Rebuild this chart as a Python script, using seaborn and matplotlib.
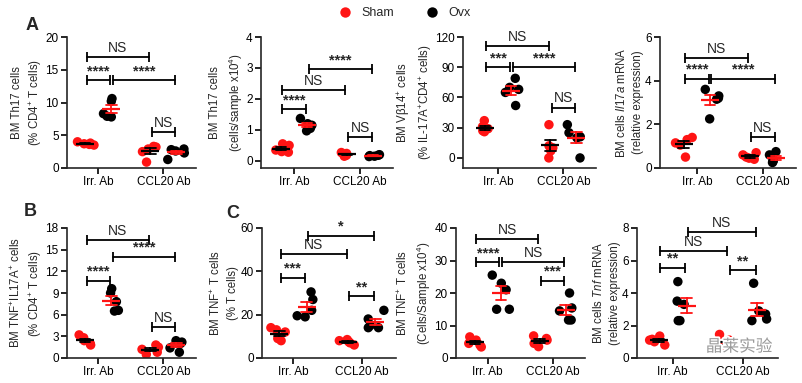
import numpy as np
import pandas as pd
import matplotlib
matplotlib.use("Agg")
import matplotlib.pyplot as plt
import matplotlib.patheffects as pe
import seaborn as sns

treatments = ["Irr. Ab", "CCL20 Ab"]
groups = ["Sham", "Ovx"]

# each list: [Irr. Ab values], [CCL20 Ab values]
th17_pct_sham = [[4.0, 3.8, 3.7, 3.6, 3.5], [3.3, 3.2, 2.9, 2.5, 0.9]]
th17_pct_ovx = [[10.6, 10.2, 8.3, 7.9, 7.8], [2.9, 2.8, 2.6, 2.3, 1.3]]

th17_num_sham = [[0.55, 0.5, 0.35, 0.3, 0.28], [0.27, 0.24, 0.2, 0.18, 0.15]]
th17_num_ovx = [[1.37, 1.2, 1.15, 1.05, 0.97], [0.2, 0.18, 0.17, 0.15, 0.14]]

vb14_sham = [[37, 31, 29, 27, 26], [33, 12, 10, 7, 0]]
vb14_ovx = [[79, 70, 68, 65, 52], [33, 25, 21, 20, 0]]

il17a_sham = [[1.4, 1.3, 1.15, 1.05, 0.5], [0.7, 0.6, 0.5, 0.45, 0.4]]
il17a_ovx = [[3.6, 3.3, 3.2, 3.15, 2.25], [0.75, 0.6, 0.35, 0.3, 0.25]]

tnf_il17_sham = [[3.2, 2.8, 2.4, 2.0, 1.8], [1.8, 1.5, 1.2, 0.8, 0.5]]
tnf_il17_ovx = [[9.6, 9.0, 7.8, 6.6, 6.5], [2.4, 2.2, 2.0, 1.4, 0.8]]

tnf_pct_sham = [[14, 13, 12, 9, 8], [8.5, 8, 7.5, 7, 6]]
tnf_pct_ovx = [[30.5, 27, 22, 19.5, 19], [22, 18, 15, 14, 14]]

tnf_num_sham = [[6.5, 5.5, 4.5, 4, 3.4], [6.8, 6, 5.5, 4.5, 3.5]]
tnf_num_ovx = [[25.5, 23, 21, 15, 15], [20, 15.4, 14.5, 11.7, 11.7]]

tnf_mrna_sham = [[1.35, 1.15, 1.1, 1.0, 0.8], [1.45, 1.1, 0.8, 0.75, 0.7]]
tnf_mrna_ovx = [[4.7, 3.5, 3.3, 2.3, 2.3], [4.6, 2.9, 2.7, 2.4, 2.3]]

# bracket ends: group centres after dodge
SI, OI, SC, OC = -0.2, 0.2, 0.8, 1.2

W, H = 803, 383

panels = [
    # sham, ovx, ylabel, ylim, yticks, (left px, right px, top px, bottom px), xleft, brackets
    (th17_pct_sham, th17_pct_ovx,
     "BM Th17 cells\n(% CD4$^{+}$ T cells)", (0, 20), [0, 5, 10, 15, 20],
     (67, 196, 37, 168), -0.48,
     [(SI, SC, 16.9, "NS"), (SI, OI, 13.4, "****"), (OI, OC, 13.4, "****"), (SC, OC, 5.5, "NS")]),
    (th17_num_sham, th17_num_ovx,
     "BM Th17 cells\n(cells/sample x10$^{4}$)", (-0.23, 4), [0, 1, 2, 3, 4],
     (261, 393, 37, 168), -0.5,
     [(OI, OC, 2.96, "****"), (SI, SC, 2.3, "NS"), (SI, OI, 1.66, "****"), (SC, OC, 0.78, "NS")]),
    (vb14_sham, vb14_ovx,
     "BM V\u03b214$^{+}$ cells\n(% IL-17A$^{+}$CD4$^{+}$ cells)", (-10, 120), [0, 30, 60, 90, 120],
     (463, 596, 37, 168), -0.54,
     [(SI, SC, 111, "NS"), (SI, OI, 90, "***"), (OI, OC, 90, "****"), (SC, OC, 50, "NS")]),
    (il17a_sham, il17a_ovx,
     "BM cells $\\mathit{Il17a}$ mRNA\n(relative expression)", (0, 6), [0, 2, 4, 6],
     (660, 796, 37, 168), -0.56,
     [(SI, SC, 5.03, "NS"), (SI, OI, 4.08, "****"), (OI, OC, 4.08, "****"), (SC, OC, 1.43, "NS")]),
    (tnf_il17_sham, tnf_il17_ovx,
     "BM TNF$^{+}$IL17A$^{+}$ cells\n(% CD4$^{+}$ T cells)", (0, 18), [0, 3, 6, 9, 12, 15, 18],
     (67, 196, 228, 358), -0.48,
     [(SI, SC, 16.3, "NS"), (OI, OC, 14.0, "****"), (SI, OI, 10.7, "****"), (SC, OC, 4.3, "NS")]),
    (tnf_pct_sham, tnf_pct_ovx,
     "BM TNF$^{+}$ T cells\n(% T cells)", (0, 60), [0, 20, 40, 60],
     (262, 396, 228, 358), -0.45,
     [(OI, OC, 56.4, "*"), (SI, SC, 48.1, "NS"), (SI, OI, 37, "***"), (SC, OC, 28.4, "**")]),
    (tnf_num_sham, tnf_num_ovx,
     "BM TNF$^{+}$ T cells\n(Cells/Sample x10$^{4}$)", (0, 40), [0, 10, 20, 30, 40],
     (456, 585, 228, 358), -0.49,
     [(SI, SC, 36.6, "NS"), (SI, OI, 29.5, "****"), (OI, OC, 29.5, "NS"), (SC, OC, 23.7, "***")]),
    (tnf_mrna_sham, tnf_mrna_ovx,
     "BM cells $\\mathit{Tnf}$ mRNA\n(relative expression)", (0, 8), [0, 2, 4, 6, 8],
     (637, 778, 228, 358), -0.51,
     [(OI, OC, 7.75, "NS"), (SI, SC, 6.6, "NS"), (SI, OI, 5.55, "**"), (SC, OC, 5.4, "**")]),
]

sns.set_style("ticks")
plt.rcParams["font.family"] = ["Liberation Sans", "DejaVu Sans"]
plt.rcParams["mathtext.fontset"] = "custom"
plt.rcParams["mathtext.rm"] = "Liberation Sans"
plt.rcParams["mathtext.it"] = "Liberation Sans:italic"

# fixed seed so the horizontal scatter of the dots is the same every run
np.random.seed(7)

fig = plt.figure(figsize=(W / 100, H / 100), dpi=100)

dot_colors = {"Sham": "#ff1414", "Ovx": "black"}
bar_colors = {"Sham": "black", "Ovx": "#ff1414"}

handles, labels = None, None
for sham, ovx, ylabel, ylim, yticks, (l, r, t, b), xleft, brackets in panels:
    ax = fig.add_axes([l / W, 1 - b / H, (r - l) / W, (b - t) / H])
    rows = []
    for grp, vals in (("Sham", sham), ("Ovx", ovx)):
        for trt, v in zip(treatments, vals):
            for x in v:
                rows.append({"treatment": trt, "group": grp, "value": x})
    df = pd.DataFrame(rows)

    sns.stripplot(data=df, x="treatment", y="value", hue="group", order=treatments,
                  hue_order=groups, palette=dot_colors, dodge=True, jitter=0.28,
                  size=6.8, linewidth=0, ax=ax, zorder=2)
    if handles is None:
        handles, labels = ax.get_legend_handles_labels()
    sns.pointplot(data=df, x="treatment", y="value", hue="group", order=treatments,
                  hue_order=groups, palette=bar_colors, dodge=0.4, errorbar="se",
                  markers="_", markersize=13, markeredgewidth=1.6, linestyle="none",
                  capsize=0.16, err_kws={"linewidth": 1.3}, legend=False, ax=ax)
    if ax.get_legend():
        ax.get_legend().remove()

    for x1, x2, y, txt in brackets:
        ax.plot([x1 + 0.02, x2 - 0.02], [y, y], color="black", lw=1.3,
                marker="|", markersize=7, markeredgewidth=1.3, clip_on=False, zorder=3)
        ax.annotate(txt, ((x1 + x2) / 2, y), xytext=(0, 1.5), textcoords="offset points",
                    ha="center", va="bottom", fontsize=10 if txt == "NS" else 10.5,
                    fontweight="bold" if txt != "NS" else "normal", annotation_clip=False)

    ax.set_xlim(xleft, 1.5)
    ax.set_ylim(*ylim)
    ax.set_yticks(yticks)
    ax.set_xlabel("")
    ax.set_ylabel(ylabel, fontsize=8.3, linespacing=1.4, labelpad=1)
    ax.tick_params(labelsize=8.5, length=4, width=1.2, colors="black", pad=2)
    sns.despine(ax=ax)
    for s in ("left", "bottom"):
        ax.spines[s].set_linewidth(1.2)

fig.legend(handles[:2], labels[:2], loc="upper center", bbox_to_anchor=(0.5, 1.01),
           ncol=2, frameon=False, fontsize=9, handletextpad=0.3, columnspacing=2.0,
           markerscale=1.1)

fig.text(32 / W, 1 - 25 / H, "A", fontsize=13, fontweight="bold", ha="center", va="center")
fig.text(30 / W, 1 - 212 / H, "B", fontsize=13, fontweight="bold", ha="center", va="center")
fig.text(233 / W, 1 - 214 / H, "C", fontsize=13, fontweight="bold", ha="center", va="center")

# watermark sitting just above the last x axis
fig.text(739 / W, 1 - 347 / H, "晶莱实验", family=["Noto Sans CJK SC", "DejaVu Sans"],
         fontsize=12, color="#9a9a9a", ha="center", va="center", zorder=10,
         path_effects=[pe.withStroke(linewidth=2.5, foreground="white")])

fig.savefig("out.png", dpi=100)
